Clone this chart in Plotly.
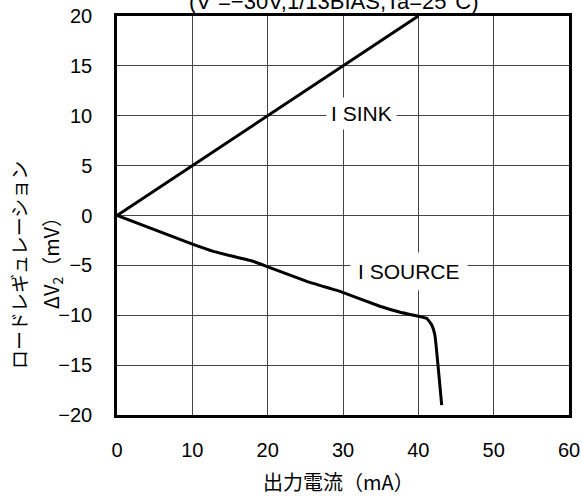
import plotly.graph_objects as go

# Data
sink_x = [0, 40]
sink_y = [0, 20]

source_x = [0, 10.1, 12.8, 18.1, 20.2, 25.2, 28.7, 29.6, 34.9, 37.6, 41.1, 41.8, 42.2, 43.1]
source_y = [0, -2.9, -3.6, -4.6, -5.2, -6.6, -7.4, -7.6, -9.1, -9.7, -10.3, -11.0, -12.0, -19.0]

x_ticks = [0, 10, 20, 30, 40, 50, 60]
y_ticks = [-20, -15, -10, -5, 0, 5, 10, 15, 20]

FONT = "Noto Sans CJK JP"
LAT = "Liberation Sans"

fig = go.Figure()
fig.add_trace(go.Scatter(x=sink_x, y=sink_y, mode="lines",
                         line=dict(color="black", width=3), showlegend=False))
fig.add_trace(go.Scatter(x=source_x, y=source_y, mode="lines",
                         line=dict(color="black", width=3, shape="spline", smoothing=0.3),
                         showlegend=False))

fig.update_layout(
    width=582, height=498,
    margin=dict(l=117, r=13, t=16, b=83, autoexpand=False),
    paper_bgcolor="white", plot_bgcolor="white",
    font=dict(family=FONT, color="black", size=15),
    xaxis=dict(range=[0, 60], tickvals=x_ticks, showgrid=True, gridcolor="#444", gridwidth=1,
               zeroline=False, showline=True, linecolor="black", linewidth=2.5, mirror=True,
               automargin=False,
               ticks="", ticklabelstandoff=15, tickfont=dict(size=20, family=LAT)),
    yaxis=dict(range=[-20, 20], tickvals=y_ticks, showgrid=True, gridcolor="#444", gridwidth=1,
               zeroline=False, showline=True, linecolor="black", linewidth=2.5, mirror=True,
               automargin=False,
               ticks="", ticklabelstandoff=18, tickfont=dict(size=20, family=LAT)),
)

fig.add_annotation(x=32.5, y=10.2, xref="x", yref="y", text="I SINK", showarrow=False,
                   font=dict(family=LAT, size=21), bgcolor="white", borderpad=4)
fig.add_annotation(x=38.8, y=-5.6, xref="x", yref="y", text="I SOURCE", showarrow=False,
                   font=dict(family=LAT, size=21), bgcolor="white", borderpad=7)

fig.add_annotation(x=0.48, y=1, xref="paper", yref="paper", yanchor="bottom", yshift=0,
                   text="(V⁻=−30V,1/13BIAS,Ta=25°C)", showarrow=False,
                   font=dict(family=LAT, size=22))

fig.add_annotation(x=0.491, y=0, xref="paper", yref="paper", xanchor="center",
                   yanchor="middle", yshift=-66,
                   text="出力電流（mA）", showarrow=False, font=dict(family=FONT, size=20))

fig.add_annotation(x=0, y=0.376, xref="paper", yref="paper", xanchor="center",
                   yanchor="middle", xshift=-98, textangle=-90,
                   text="ロードレギュレーション", showarrow=False, font=dict(family=FONT, size=19))
fig.add_annotation(x=0, y=0.393, xref="paper", yref="paper", xanchor="center",
                   yanchor="middle", xshift=-66, textangle=-90,
                   text="ΔV<sub>2</sub>（mV）", showarrow=False, font=dict(family=FONT, size=20))

fig.write_html("out.html")
